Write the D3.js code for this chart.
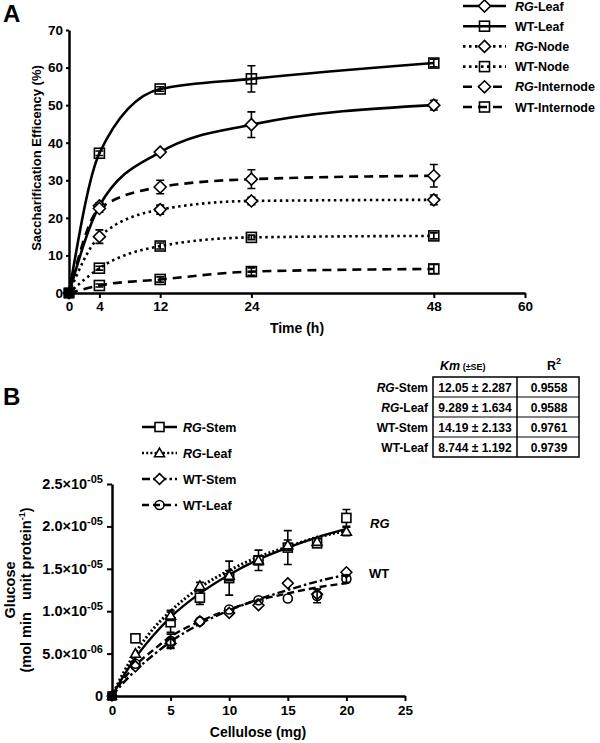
<!DOCTYPE html>
<html><head><meta charset="utf-8">
<script src="https://cdn.jsdelivr.net/npm/d3@7"></script>
<style>
body{margin:0;background:#fff;}
svg text{font-family:Arial,"Liberation Sans",sans-serif;font-weight:bold;fill:#000;}
</style></head>
<body>
<svg id="c" width="600" height="743"></svg>
<script>
// ---------- Panel A data ----------
const timeA = [0, 4, 12, 24, 48];
const xTicksA = [0, 4, 12, 24, 48, 60];
const yTicksA = [0, 10, 20, 30, 40, 50, 60, 70];
const rgLeaf = [0, 23.2, 37.5, 44.8, 50.0];
const rgLeafErr = [0, 0.8, 0.6, 3.4, 1.3];
const wtLeaf = [0, 37.2, 54.3, 57.0, 61.2];
const wtLeafErr = [0, 0.6, 0.6, 3.5, 1.0];
const rgNode = [0, 15.0, 22.2, 24.5, 24.8];
const rgNodeErr = [0, 1.8, 1.2, 1.0, 1.3];
const wtNode = [0, 6.6, 12.5, 14.8, 15.2];
const wtNodeErr = [0, 0.5, 0.8, 0.6, 0.8];
const rgInternode = [0, 22.5, 28.2, 30.3, 31.2];
const rgInternodeErr = [0, 1.0, 1.8, 2.5, 3.0];
const wtInternode = [0, 2.0, 3.6, 5.7, 6.4];
const wtInternodeErr = [0, 0.4, 0.7, 1.0, 1.2];
const seriesNamesA = ["RG-Leaf", "WT-Leaf", "RG-Node", "WT-Node", "RG-Internode", "WT-Internode"];

// ---------- Panel B data ----------
const celluloseB = [0, 2, 5, 7.5, 10, 12.5, 15, 17.5, 20];
const xTicksB = [0, 5, 10, 15, 20, 25];
const yTicksB = [0, 5e-6, 1e-5, 1.5e-5, 2e-5, 2.5e-5];
const yTickLabelsB = [["0", ""], ["5.0\u00d710", "-06"], ["1.0\u00d710", "-05"], ["1.5\u00d710", "-05"], ["2.0\u00d710", "-05"], ["2.5\u00d710", "-05"]];
const rgStem = [0, 6.8e-6, 8.7e-6, 1.16e-5, 1.39e-5, 1.6e-5, 1.75e-5, 1.8e-5, 2.1e-5];
const rgStemErr = [0, 0, 1.2e-6, 0.8e-6, 2.0e-6, 1.2e-6, 2.0e-6, 0.4e-6, 1.0e-6];
const rgLeafB = [0, 5.0e-6, 9.5e-6, 1.3e-5, 1.42e-5, 1.6e-5, 1.78e-5, 1.82e-5, 1.94e-5];
const rgLeafBErr = [0, 0, 0.6e-6, 0.4e-6, 0.6e-6, 0.5e-6, 0.6e-6, 0.4e-6, 0.5e-6];
const wtStem = [0, 3.5e-6, 6.2e-6, 8.8e-6, 9.8e-6, 1.07e-5, 1.33e-5, 1.2e-5, 1.46e-5];
const wtStemErr = [0, 0, 0.6e-6, 0.3e-6, 0.3e-6, 0.3e-6, 0.3e-6, 0.3e-6, 0.3e-6];
const wtLeafB = [0, 3.8e-6, 6.5e-6, 8.8e-6, 1.02e-5, 1.13e-5, 1.15e-5, 1.18e-5, 1.38e-5];
const wtLeafBErr = [0, 0, 0.8e-6, 0.3e-6, 0.3e-6, 0.3e-6, 0.3e-6, 0.8e-6, 0.4e-6];
// fitted curves
const fitX = [0, 1, 2, 3.5, 5, 7.5, 10, 12.5, 15, 17.5, 20];
const fitRgStem = [0, 2.4e-6, 4.5e-6, 7.1e-6, 9.3e-6, 1.21e-5, 1.43e-5, 1.61e-5, 1.75e-5, 1.87e-5, 1.97e-5];
const fitRgLeaf = [0, 2.8e-6, 5.1e-6, 7.9e-6, 1.0e-5, 1.28e-5, 1.48e-5, 1.64e-5, 1.76e-5, 1.87e-5, 1.95e-5];
const fitWtStem = [0, 1.6e-6, 3.0e-6, 4.8e-6, 6.4e-6, 8.5e-6, 1.01e-5, 1.14e-5, 1.25e-5, 1.35e-5, 1.43e-5];
const fitWtLeaf = [0, 2.0e-6, 3.6e-6, 5.4e-6, 7.0e-6, 8.8e-6, 1.02e-5, 1.13e-5, 1.21e-5, 1.28e-5, 1.33e-5];
const seriesNamesB = ["RG-Stem", "RG-Leaf", "WT-Stem", "WT-Leaf"];
const tableRows = ["RG-Stem", "RG-Leaf", "WT-Stem", "WT-Leaf"];
const tableKm = ["12.05 \u00b1 2.287", "9.289 \u00b1 1.634", "14.19 \u00b1 2.133", "8.744 \u00b1 1.192"];
const tableR2 = ["0.9558", "0.9588", "0.9761", "0.9739"];

const svg = d3.select("#c");

function seriesLabel(sel, name) {
  const parts = name.split("-");
  if (parts[0] === "RG") {
    sel.append("tspan").attr("font-style", "italic").text("RG");
    sel.append("tspan").text("-" + parts.slice(1).join("-"));
  } else sel.text(name);
}

function marker(g, type, x, y, s, fill) {
  const sw = 1.6;
  if (type === "square") {
    g.append("rect").attr("x", x - s / 2).attr("y", y - s / 2).attr("width", s).attr("height", s)
      .attr("fill", fill).attr("stroke", "#000").attr("stroke-width", sw);
  } else if (type === "diamond") {
    const h = s * 0.6;
    g.append("path").attr("d", `M${x},${y - h}L${x + h},${y}L${x},${y + h}L${x - h},${y}Z`)
      .attr("fill", fill).attr("stroke", "#000").attr("stroke-width", sw);
  } else if (type === "triangle") {
    const h = s * 0.55;
    g.append("path").attr("d", `M${x},${y - h}L${x + h},${y + h * 0.75}L${x - h},${y + h * 0.75}Z`)
      .attr("fill", fill).attr("stroke", "#000").attr("stroke-width", sw);
  } else if (type === "circle") {
    g.append("circle").attr("cx", x).attr("cy", y).attr("r", s / 2)
      .attr("fill", fill).attr("stroke", "#000").attr("stroke-width", sw);
  }
}

// ================= PANEL A =================
const xA = d3.scaleLinear().domain([0, 60]).range([69, 525]);
const yA = d3.scaleLinear().domain([0, 70]).range([293, 30]);
const gA = svg.append("g");
svg.append("text").attr("x", 3).attr("y", 22).attr("font-size", 24).text("A");

const axA = gA.append("g").attr("transform", "translate(0,293)")
  .call(d3.axisBottom(xA).tickValues(xTicksA).tickSize(5).tickPadding(3).tickSizeOuter(0));
const ayA = gA.append("g").attr("transform", "translate(69,0)")
  .call(d3.axisLeft(yA).tickValues(yTicksA).tickSize(3).tickPadding(3).tickSizeOuter(0));
[axA, ayA].forEach(a => {
  a.select(".domain").attr("stroke-width", 2.5);
  a.selectAll(".tick line").attr("stroke-width", 2);
  a.selectAll("text").attr("font-size", 13.5).attr("font-weight", "bold").attr("font-family", "Arial, Liberation Sans");
});
gA.append("text").attr("x", 297).attr("y", 333).attr("text-anchor", "middle").attr("font-size", 14).text("Time (h)");
gA.append("text").attr("transform", "translate(41,158) rotate(-90)").attr("text-anchor", "middle")
  .attr("font-size", 13).text("Saccharification Efficency (%)");

const seriesA = [
  { vals: rgLeaf, err: rgLeafErr, m: "diamond", dash: null, fill: "#fff" },
  { vals: wtLeaf, err: wtLeafErr, m: "square", dash: null, fill: "none" },
  { vals: rgNode, err: rgNodeErr, m: "diamond", dash: "2.5,3.5", fill: "#fff" },
  { vals: wtNode, err: wtNodeErr, m: "square", dash: "2.5,3.5", fill: "none" },
  { vals: rgInternode, err: rgInternodeErr, m: "diamond", dash: "9,6", fill: "#fff" },
  { vals: wtInternode, err: wtInternodeErr, m: "square", dash: "9,6", fill: "none" }
];
const lineA = d3.line().x(d => xA(d[0])).y(d => yA(d[1])).curve(d3.curveMonotoneX);
seriesA.forEach(s => {
  const pts = timeA.map((t, i) => [t, s.vals[i]]);
  gA.append("path").attr("d", lineA(pts)).attr("fill", "none").attr("stroke", "#000")
    .attr("stroke-width", 2.6).attr("stroke-dasharray", s.dash);
});
seriesA.forEach(s => {
  timeA.forEach((t, i) => {
    const x = xA(t), e = s.err[i];
    if (e > 0.3) {
      const y1 = yA(s.vals[i] + e), y2 = yA(s.vals[i] - e);
      gA.append("path").attr("d", `M${x},${y1}V${y2}M${x - 4},${y1}H${x + 4}M${x - 4},${y2}H${x + 4}`)
        .attr("stroke", "#000").attr("stroke-width", 1.6).attr("fill", "none");
    }
    marker(gA, s.m, x, yA(s.vals[i]), t === 0 ? 9 : 10, t === 0 ? "#000" : s.fill);
  });
});
// legend A
const legA = gA.append("g");
seriesNamesA.forEach((n, i) => {
  const y = 6 + i * 20.2;
  const s = seriesA[i];
  legA.append("line").attr("x1", 463).attr("x2", 506).attr("y1", y).attr("y2", y)
    .attr("stroke", "#000").attr("stroke-width", 2.6).attr("stroke-dasharray", s.dash);
  marker(legA, s.m, 484.5, y, 10, s.m === "square" ? "none" : "#fff");
  const t = legA.append("text").attr("x", 515).attr("y", y + 4.5).attr("font-size", 12.5);
  seriesLabel(t, n);
});

// ================= PANEL B =================
const xB = d3.scaleLinear().domain([0, 25]).range([112, 405]);
const yB = d3.scaleLinear().domain([0, 2.5e-5]).range([696, 484]);
const gB = svg.append("g");
svg.append("text").attr("x", 3).attr("y", 405).attr("font-size", 24).text("B");

const axB = gB.append("g").attr("transform", "translate(0,696)")
  .call(d3.axisBottom(xB).tickValues(xTicksB).tickSize(5).tickPadding(4).tickSizeOuter(0));
const ayB = gB.append("g").attr("transform", "translate(112,0)")
  .call(d3.axisLeft(yB).tickValues(yTicksB).tickSize(5).tickFormat(() => "").tickSizeOuter(0));
[axB, ayB].forEach(a => {
  a.select(".domain").attr("stroke-width", 2.5);
  a.selectAll(".tick line").attr("stroke-width", 2);
  a.selectAll("text").attr("font-size", 13.5).attr("font-weight", "bold").attr("font-family", "Arial, Liberation Sans");
});
yTicksB.forEach((v, i) => {
  const t = gB.append("text").attr("x", 103).attr("y", yB(v) + 5).attr("text-anchor", "end").attr("font-size", 14.5);
  t.append("tspan").text(yTickLabelsB[i][0]);
  if (yTickLabelsB[i][1]) t.append("tspan").attr("font-size", 11).attr("dy", -6).text(yTickLabelsB[i][1]);
});
gB.append("text").attr("x", 258).attr("y", 737).attr("text-anchor", "middle").attr("font-size", 14).text("Cellulose (mg)");
gB.append("text").attr("transform", "translate(15,590) rotate(-90)").attr("text-anchor", "middle")
  .attr("font-size", 14.5).text("Glucose");
const yl2 = gB.append("text").attr("transform", "translate(31,590) rotate(-90)").attr("text-anchor", "middle")
  .attr("font-size", 14.5);
yl2.append("tspan").text("(mol min\u00a0\u00a0 unit protein");
yl2.append("tspan").attr("font-size", 9).attr("dy", -6).text("-1");
yl2.append("tspan").attr("dy", 6).text(")");

const seriesB = [
  { vals: rgStem, err: rgStemErr, fit: fitRgStem, m: "square", dash: null, fill: "#fff" },
  { vals: rgLeafB, err: rgLeafBErr, fit: fitRgLeaf, m: "triangle", dash: "2,2.2", fill: "#fff" },
  { vals: wtStem, err: wtStemErr, fit: fitWtStem, m: "diamond", dash: "8,3,2.5,3", fill: "#fff" },
  { vals: wtLeafB, err: wtLeafBErr, fit: fitWtLeaf, m: "circle", dash: "7,4", fill: "none" }
];
const lineB = d3.line().x(d => xB(d[0])).y(d => yB(d[1])).curve(d3.curveMonotoneX);
seriesB.forEach(s => {
  const pts = fitX.map((x, i) => [x, s.fit[i]]);
  gB.append("path").attr("d", lineB(pts)).attr("fill", "none").attr("stroke", "#000")
    .attr("stroke-width", s.dash === "2,2.2" ? 3 : 2.4).attr("stroke-dasharray", s.dash);
});
seriesB.forEach(s => {
  celluloseB.forEach((c, i) => {
    const x = xB(c), e = s.err[i];
    if (e > 0.35e-6) {
      const y1 = yB(s.vals[i] + e), y2 = yB(s.vals[i] - e);
      gB.append("path").attr("d", `M${x},${y1}V${y2}M${x - 4},${y1}H${x + 4}M${x - 4},${y2}H${x + 4}`)
        .attr("stroke", "#000").attr("stroke-width", 1.6).attr("fill", "none");
    }
    marker(gB, s.m, x, yB(s.vals[i]), c === 0 ? 8 : 9, c === 0 ? "#000" : s.fill);
  });
});
gB.append("text").attr("x", 370).attr("y", 528).attr("font-size", 13).attr("font-style", "italic").text("RG");
gB.append("text").attr("x", 369).attr("y", 578).attr("font-size", 13).text("WT");

// legend B
seriesNamesB.forEach((n, i) => {
  const y = 427 + i * 26;
  const s = seriesB[i];
  gB.append("line").attr("x1", 142).attr("x2", 177).attr("y1", y).attr("y2", y)
    .attr("stroke", "#000").attr("stroke-width", 2.6).attr("stroke-dasharray", s.dash);
  marker(gB, s.m, 159.5, y, 9, s.fill);
  const t = gB.append("text").attr("x", 183).attr("y", y + 4.5).attr("font-size", 12.5);
  seriesLabel(t, n);
});

// table
const tb = gB.append("g");
const rowTop = 377, rowH = 20;
const hdr = tb.append("text").attr("x", 440).attr("y", 370).attr("font-size", 12.5);
hdr.append("tspan").attr("font-style", "italic").text("Km");
hdr.append("tspan").attr("font-size", 9).text(" (\u00b1SE)");
const r2 = tb.append("text").attr("x", 547).attr("y", 370).attr("font-size", 12.5);
r2.append("tspan").text("R");
r2.append("tspan").attr("font-size", 9).attr("dy", -6).text("2");
tb.append("rect").attr("x", 433).attr("y", rowTop).attr("width", 146).attr("height", rowH * 4)
  .attr("fill", "none").attr("stroke", "#000").attr("stroke-width", 1.5);
tb.append("line").attr("x1", 517).attr("x2", 517).attr("y1", rowTop).attr("y2", rowTop + rowH * 4)
  .attr("stroke", "#000").attr("stroke-width", 1.5);
tableRows.forEach((n, i) => {
  const yy = rowTop + rowH * i;
  if (i > 0) tb.append("line").attr("x1", 433).attr("x2", 579).attr("y1", yy).attr("y2", yy)
    .attr("stroke", "#000").attr("stroke-width", 1.2);
  const t = tb.append("text").attr("x", 428).attr("y", yy + 14.5).attr("text-anchor", "end").attr("font-size", 12);
  seriesLabel(t, n);
  tb.append("text").attr("x", 475).attr("y", yy + 14.5).attr("text-anchor", "middle").attr("font-size", 12).text(tableKm[i]);
  tb.append("text").attr("x", 549).attr("y", yy + 14.5).attr("text-anchor", "middle").attr("font-size", 12).text(tableR2[i]);
});
</script>
</body></html>
